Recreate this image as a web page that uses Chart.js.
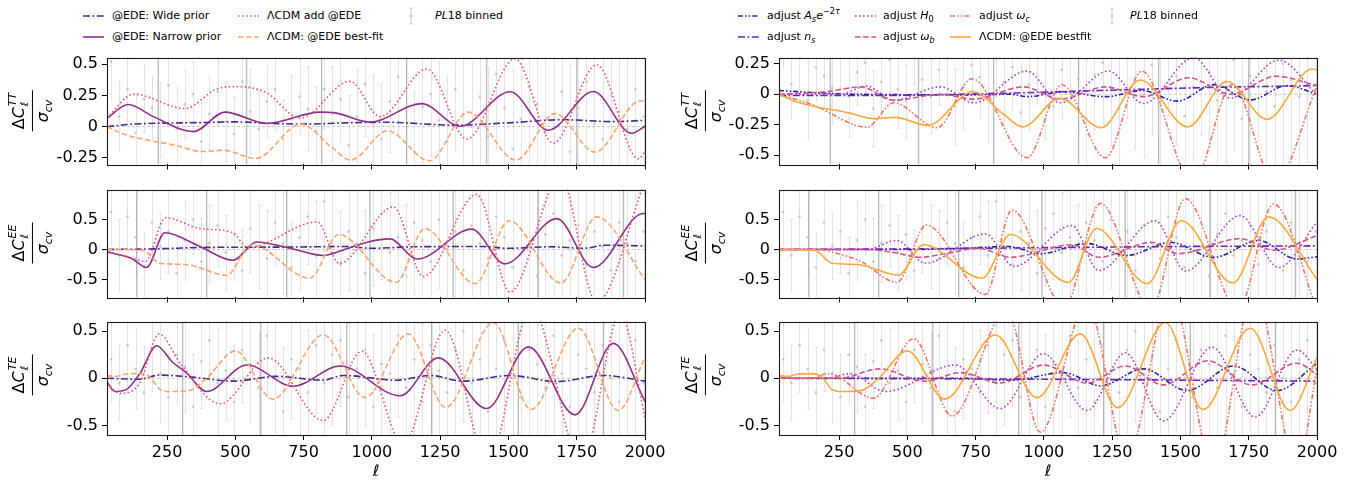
<!DOCTYPE html>
<html><head><meta charset="utf-8">
<script src="https://cdn.jsdelivr.net/npm/chart.js@4.4.0/dist/chart.umd.min.js"></script>
<style>
body{margin:0;width:1352px;height:480px;background:#fff;position:relative;overflow:hidden;font-family:"DejaVu Sans",sans-serif;color:#000}
canvas{position:absolute}
.lt{position:absolute;font-size:11px;line-height:14px;white-space:nowrap}
.lt sub,.lt sup{font-size:75%;line-height:0}
.yl{position:absolute;transform:translate(-50%,-50%) rotate(-90deg);display:flex;flex-direction:column;align-items:center;font-size:16px;line-height:1;white-space:nowrap}
.num{display:inline-flex;align-items:center;padding:0 2px 2px}
.st{display:inline-flex;flex-direction:column;font-size:11px;line-height:1.05;margin-left:1px}
.den{border-top:1.6px solid #000;padding-top:2px;width:100%;text-align:center}
.den sub{font-size:11px;line-height:0}
.xl{position:absolute;font-size:16px;font-style:italic;transform:translate(-50%,-50%)}
</style></head><body>
<script>
// ---------- axes ----------
const X_MIN = 30, X_MAX = 2000;
const xTicks = [250,500,750,1000,1250,1500,1750,2000];
const yTicksTTL = [-0.25,0,0.25,0.5], yLabTTL = ['-0.25','0','0.25','0.5'];
const yTicksTTR = [-0.5,-0.25,0,0.25], yLabTTR = ['-0.5','-0.25','0','0.25'];
const yTicksPol = [-0.5,0,0.5], yLabPol = ['-0.5','0','0.5'];

// ---------- PL18 binned residuals ----------
const binL = [45,75,105,135,165,195,225,255,285,315,345,375,405,435,465,495,525,555,585,615,645,675,705,735,765,795,825,855,885,915,945,975,1005,1035,1065,1095,1125,1155,1185,1215,1245,1275,1305,1335,1365,1395,1425,1455,1485,1515,1545,1575,1605,1635,1665,1695,1725,1755,1785,1815,1845,1875,1905,1935,1965,1995];
const TT_v = [0.52,0.08,0.30,-0.05,0.22,0.15,0.05,0.33,-0.02,0.18,0.26,-0.12,0.10,0.28,0.04,-0.06,0.36,0.12,-0.02,0.20,0.30,-0.10,0.06,0.24,0.14,-0.04,0.30,0.10,0.22,-0.15,0.08,0.34,0.02,-0.10,0.20,0.40,0.12,-0.20,0.16,0.26,0.05,-0.12,0.30,0.10,0.00,0.24,-0.08,0.42,0.15,-0.18,0.06,0.32,0.18,-0.05,0.10,0.28,-0.20,0.15,0.36,0.02,-0.10,0.25,0.12,-0.02,0.30,0.08];
const TT_e = [0.30,0.28,0.26,0.32,0.27,0.25,0.30,0.28,0.33,0.27,0.26,0.31,0.29,0.27,0.32,0.30,0.28,0.34,0.30,0.29,0.33,0.31,0.35,0.30,0.34,0.36,0.32,0.38,0.35,0.40,0.37,0.42,0.39,0.44,0.41,0.46,0.43,0.48,0.45,0.50,0.47,0.52,0.50,0.55,0.52,0.58,0.55,0.60,0.57,0.63,0.60,0.66,0.62,0.70,0.66,0.74,0.70,0.78,0.74,0.82,0.78,0.86,0.82,0.90,0.86,0.95];
const EE_v = [0.62,-0.10,0.55,0.20,-0.30,0.45,0.05,0.30,-0.40,0.15,0.50,-0.20,0.10,0.40,-0.05,0.25,-0.35,0.35,0.05,-0.15,0.45,0.10,-0.30,0.20,0.55,-0.10,0.80,0.05,-0.25,0.30,0.10,-0.40,0.35,0.60,-0.05,0.20,-0.30,0.45,0.15,-0.20,0.50,0.00,0.30,-0.35,0.40,0.10,-0.15,0.55,0.20,-0.30,0.35,0.05,-0.45,0.25,0.60,-0.10,0.15,0.40,-0.25,0.30,0.05,-0.35,0.45,0.10,-0.20,0.30];
const EE_e = [0.55,0.60,0.50,0.65,0.58,0.62,0.55,0.70,0.60,0.66,0.58,0.72,0.64,0.70,0.62,0.76,0.68,0.74,0.70,0.80,0.72,0.84,0.76,0.88,0.80,0.92,0.84,0.96,0.88,1.00,0.92,1.05,0.96,1.10,1.00,1.15,1.05,1.20,1.10,1.25,1.15,1.30,1.20,1.35,1.25,1.40,1.30,1.45,1.35,1.50,1.40,1.55,1.45,1.60,1.50,1.65,1.55,1.70,1.60,1.75,1.65,1.80,1.70,1.85,1.75,1.90];
const TE_v = [0.20,-0.05,0.35,0.10,-0.15,0.30,0.05,-0.20,0.25,0.12,-0.30,0.18,0.40,-0.05,0.08,-0.25,0.30,0.15,-0.10,0.45,0.02,-0.35,0.20,0.10,-0.15,0.35,-0.05,0.25,0.40,-0.20,0.10,0.30,-0.30,0.15,0.05,0.45,-0.10,0.20,-0.25,0.35,0.08,-0.15,0.30,0.50,-0.05,0.20,-0.35,0.10,0.40,0.00,-0.20,0.30,0.15,-0.10,0.45,0.05,-0.30,0.25,0.10,-0.15,0.35,0.00,-0.25,0.20,0.40,-0.05];
const TE_e = [0.45,0.40,0.50,0.42,0.48,0.44,0.52,0.46,0.50,0.48,0.55,0.50,0.53,0.58,0.52,0.60,0.56,0.62,0.58,0.65,0.60,0.68,0.63,0.70,0.66,0.72,0.68,0.75,0.70,0.78,0.73,0.80,0.76,0.83,0.78,0.86,0.80,0.88,0.83,0.90,0.86,0.93,0.88,0.96,0.90,0.98,0.93,1.00,0.96,1.03,0.98,1.06,1.00,1.08,1.03,1.10,1.06,1.13,1.08,1.16,1.10,1.18,1.13,1.20,1.16,1.22];
// wide (off-scale) binned bars, drawn darker
const TT_dark = [218,541,816,1127,1420,1750];
const EE_dark = [139,395,688,993,1298,1609,1921];
const TE_dark = [307,593,908,1219,1536,1848];

// ---------- ΛCDM: @EDE best-fit (shared by both columns) ----------
const BF_TT_l = [30,90,160,280,380,455,575,740,850,923,1057,1210,1353,1527,1671,1817,1982,2000];
const BF_TT_v = [0,-0.06,-0.1,-0.15,-0.2,-0.19,-0.255,0.02,-0.16,-0.268,-0.034,-0.274,0.116,-0.268,0.104,-0.205,0.207,0.2];
const BF_EE_l = [30,160,224,317,468,559,773,878,1089,1193,1378,1503,1692,1823,2000];
const BF_EE_v = [0,-0.01,-0.23,-0.25,-0.43,0.08,-0.48,0.25,-0.55,0.35,-0.57,0.48,-0.56,0.545,-0.5];
const BF_TE_l = [30,60,100,150,185,225,260,330,395,500,637,822,975,1133,1270,1445,1582,1756,1902,2000];
const BF_TE_v = [0.03,0.02,0.045,0.05,0.02,-0.12,-0.14,-0.13,0.0,0.29,-0.22,0.46,-0.205,0.47,-0.31,0.59,-0.33,0.53,-0.34,0.22];

// ---------- left column ----------
const W_TT_l = [30,127,371,500,620,760,900,1050,1300,1500,1700,1880,2000];
const W_TT_v = [0,0.02,0.032,0.038,0.027,0.02,0.03,0.035,0.012,0.03,0.055,0.04,0.05];
const N_TT_l = [30,108,200,346,462,615,810,860,993,1182,1323,1506,1646,1811,1951,2000];
const N_TT_v = [0.068,0.177,0.08,-0.04,0.116,0.025,0.116,0.112,0.036,0.184,0.003,0.279,-0.029,0.281,-0.053,0.003];
const A_TT_l = [30,127,316,430,500,560,615,737,920,1030,1201,1348,1524,1664,1823,1976,2000];
const A_TT_v = [0.068,0.26,0.145,0.30,0.32,0.31,0.27,0.068,0.363,0.08,0.462,-0.1,0.544,-0.133,0.496,-0.258,-0.2];

const W_EE_l = [30,200,400,700,900,1000,1150,1400,1500,1650,1780,1850,2000];
const W_EE_v = [0,0.01,0.035,0.04,0.05,0.02,0.045,0.05,0.02,0.045,0.02,0.07,0.06];
const N_EE_l = [30,120,175,242,370,492,578,700,822,900,990,1066,1166,1365,1487,1677,1811,1994,2000];
const N_EE_v = [-0.04,-0.15,-0.30,0.28,0.05,-0.18,0.126,0.02,-0.1,0.0,0.13,0.177,-0.16,0.34,-0.24,0.515,-0.30,0.6,0.6];
const A_EE_l = [30,120,170,245,371,492,545,800,880,1079,1188,1384,1506,1690,1823,2000];
const A_EE_v = [-0.04,-0.14,-0.2,0.53,0.35,0.28,0.03,0.46,-0.23,0.71,-0.45,0.92,-0.71,1.2,-0.88,1.15];

const W_TE_l = [30,150,221,350,492,650,822,895,1091,1213,1335,1506,1677,1847,2000];
const W_TE_v = [0,-0.01,0.034,0.01,-0.03,0.02,-0.02,0.03,-0.02,0.03,-0.03,0.03,-0.035,0.03,-0.03];
const N_TE_l = [30,59,100,150,212,270,320,395,542,712,883,1103,1243,1420,1573,1744,1884,2000];
const N_TE_v = [-0.04,-0.14,-0.12,0.05,0.344,0.17,0.06,-0.14,0.14,-0.084,0.13,-0.185,0.216,-0.32,0.333,-0.387,0.37,-0.245];
const A_TE_l = [30,79,150,221,300,444,620,822,963,1115,1268,1425,1583,1768,1910,2000];
const A_TE_v = [-0.06,-0.16,-0.05,0.47,0.15,-0.27,0.216,-0.447,0.286,-0.7,0.51,-0.9,0.75,-0.88,0.68,-0.41];

// ---------- right column ----------
const As_TT_l = [30,300,750,877,940,1070,1225,1360,1488,1622,1756,1890,2000];
const As_TT_v = [0.03,0.0,-0.005,0.0,-0.02,0.02,-0.02,0.03,-0.057,0.078,-0.047,0.07,0.0];
const ns_TT_l = [30,400,800,1200,1600,2000];
const ns_TT_v = [-0.01,-0.01,0.005,0.03,0.055,0.07];
const H0_TT_l = [30,250,352,450,621,743,938,1060,1237,1365,1548,1683,1860,2000];
const H0_TT_v = [0,0,0.066,-0.05,0.06,-0.07,0.19,-0.07,0.19,-0.076,0.3,-0.032,0.28,-0.007];
const wb_TT_l = [30,200,330,450,620,740,926,1060,1225,1365,1530,1683,1850,2000];
const wb_TT_v = [0,0.02,0.06,-0.05,0.0,-0.04,0.06,-0.04,0.06,-0.02,0.135,0.0,0.147,0.07];
const wc_TT_l = [30,157,352,450,609,737,938,1066,1225,1359,1546,1690,1845,2000];
const wc_TT_v = [0,-0.09,-0.27,-0.07,-0.275,0.127,-0.52,0.078,-0.52,0.188,-0.72,0.08,-0.72,0.066];

const As_EE_l = [30,500,700,870,987,1158,1304,1463,1622,1786,1927,2000];
const As_EE_v = [0,0,0.02,0.05,-0.07,0.1,-0.1,0.12,-0.13,0.15,-0.16,-0.12];
const ns_EE_l = [30,500,1000,1500,2000];
const ns_EE_v = [0,0.01,0.03,0.05,0.06];
const H0_EE_l = [30,350,462,566,786,890,1103,1200,1408,1518,1719,1860,2000];
const H0_EE_v = [0,0,0.15,-0.23,0.26,-0.28,0.40,-0.35,0.48,-0.36,0.565,-0.30,0.46];
const wb_EE_l = [30,350,450,547,650,760,877,1103,1200,1395,1490,1719,1841,2000];
const wb_EE_v = [0,0,-0.05,-0.13,-0.06,0.02,-0.13,0.08,-0.13,0.12,-0.07,0.18,-0.01,0.23];
const wc_EE_l = [30,180,230,330,462,569,786,883,1075,1207,1392,1518,1711,1841,2000];
const wc_EE_v = [0,0,-0.05,-0.2,-0.55,0.41,-0.75,0.66,-0.95,0.77,-1.0,0.85,-1.0,0.76,-1.0];

const As_TE_l = [30,700,880,1072,1208,1365,1524,1695,1853,2000];
const As_TE_v = [0,0,-0.02,0.06,-0.08,0.1,-0.13,0.13,-0.13,0.16];
const ns_TE_l = [30,1000,2000];
const ns_TE_v = [0,-0.01,-0.03];
const H0_TE_l = [30,200,290,419,676,840,999,1158,1298,1438,1616,1774,1927,2000];
const H0_TE_v = [0,0,0.05,-0.14,0.14,-0.32,0.26,-0.34,0.27,-0.45,0.33,-0.41,0.3,0.09];
const wb_TE_l = [30,250,400,560,694,840,999,1158,1298,1438,1600,1760,1927,2000];
const wb_TE_v = [0,0,0.1,-0.03,0.06,-0.05,0.14,-0.05,0.13,-0.07,0.185,-0.07,0.16,0.04];
const wc_TE_l = [30,150,210,376,523,664,864,987,1158,1304,1463,1622,1770,1927,2000];
const wc_TE_v = [0,0,0.05,-0.21,0.42,-0.4,0.72,-0.57,0.8,-0.85,0.9,-0.95,0.95,-0.95,0.1];

// ---------- styles ----------
const C = {wide:'#47288a', narrow:'#8f2f8c', add:'#e8526c', bf:'#fea36f',
           As:'#23239a', ns:'#6a1fc0', H0:'#b03ac8', wb:'#d4508a', wc:'#f07563', bfR:'#fda83c'};
const D = {dashdot:[7,2.5,1.8,2.5], dotted:[1.6,2.4], dashed:[5.5,2.6], ddd:[5,2,1.6,2,1.6,2], solid:[]};

Chart.defaults.font.family = "'DejaVu Sans', sans-serif";
Chart.defaults.font.size = 16;
Chart.defaults.color = '#000';

function curve(ls, vs, color, dash){
  return {data: ls.map((l,i)=>({x:l, y:vs[i]})), borderColor: color, borderDash: dash, borderWidth: 1.6,
          pointRadius: 0, cubicInterpolationMode: 'monotone', fill: false};
}
function zeroLine(){
  return {data:[{x:X_MIN,y:0},{x:X_MAX,y:0}], borderColor:'rgba(195,195,195,0.9)', borderDash:[3,2], borderWidth:1, pointRadius:0};
}
function points(vals){
  return {data: binL.map((l,i)=>({x:l, y:vals[i]})), showLine:false, pointRadius:1.4, pointBorderWidth:0,
          pointBackgroundColor:'rgba(185,185,185,0.7)', borderColor:'rgba(0,0,0,0)'};
}

const errPlugin = {
  id:'errbars',
  beforeDatasetsDraw(chart, args, o){
    if(!o || !o.vals) return;
    const {ctx, chartArea:a} = chart, xs = chart.scales.x, ys = chart.scales.y;
    ctx.save(); ctx.beginPath(); ctx.rect(a.left, a.top, a.right-a.left, a.bottom-a.top); ctx.clip();
    ctx.strokeStyle = 'rgba(200,200,200,0.5)'; ctx.lineWidth = 1;
    for(let i=0;i<binL.length;i++){
      const px = Math.round(xs.getPixelForValue(binL[i]))+0.5;
      const y1 = ys.getPixelForValue(o.vals[i]-o.errs[i]), y2 = ys.getPixelForValue(o.vals[i]+o.errs[i]);
      ctx.beginPath(); ctx.moveTo(px,y1); ctx.lineTo(px,y2);
      ctx.moveTo(px-1.5,y1); ctx.lineTo(px+1.5,y1); ctx.moveTo(px-1.5,y2); ctx.lineTo(px+1.5,y2);
      ctx.stroke();
    }
    ctx.strokeStyle = 'rgba(160,160,160,0.7)'; ctx.lineWidth = 1.4;
    for(const l of o.dark){
      const px = xs.getPixelForValue(l);
      ctx.beginPath(); ctx.moveTo(px, ys.getPixelForValue(ys.max)); ctx.lineTo(px, ys.getPixelForValue(ys.min)); ctx.stroke();
    }
    ctx.restore();
  },
  afterDraw(chart){
    const {ctx, chartArea:a} = chart;
    ctx.save(); ctx.strokeStyle = '#1a1a1a'; ctx.lineWidth = 1.1;
    ctx.strokeRect(Math.round(a.left)+0.5, Math.round(a.top)+0.5, Math.round(a.right-a.left), Math.round(a.bottom-a.top));
    ctx.restore();
  }
};
Chart.register(errPlugin);

function panel(pos, yMin, yMax, yT, yTL, showX, datasets, bars){
  const YW = 70, PT = 8, PR = 30, XH = showX ? 40 : 8;
  const cv = document.createElement('canvas');
  cv.width = pos.w + YW + PR; cv.height = pos.h + PT + XH;
  cv.style.left = (pos.l - YW) + 'px'; cv.style.top = (pos.t - PT) + 'px';
  document.body.appendChild(cv);
  const grid = {drawOnChartArea:false, drawTicks:true, tickLength:5, color:'#000', lineWidth:1};
  new Chart(cv, {type:'line', data:{datasets}, options:{
    responsive:false, animation:false, devicePixelRatio:1, events:[],
    layout:{padding:{top:PT, right:PR, left:0, bottom:0}},
    plugins:{legend:{display:false}, tooltip:{enabled:false}, errbars:bars},
    scales:{
      x:{type:'linear', min:X_MIN, max:X_MAX, grid, border:{display:false},
         afterBuildTicks:s=>{s.ticks = xTicks.map(v=>({value:v}));}, afterFit:s=>{s.height = XH;},
         ticks:{display:showX, padding:3, maxRotation:0, autoSkip:false, callback:v=>String(v)}},
      y:{type:'linear', min:yMin, max:yMax, grid, border:{display:false},
         afterBuildTicks:s=>{s.ticks = yT.map(v=>({value:v}));}, afterFit:s=>{s.width = YW;},
         ticks:{padding:4, autoSkip:false, callback:(v,i)=>yTL[i]}}
    }
  }});
}

const LX = {l:107, w:538}, RX = {l:779, w:538};
const ROW = {TT:{t:52,h:118}, EE:{t:184,h:119}, TE:{t:316,h:119}};
const P = (c, r) => ({l:c.l, w:c.w, t:r.t, h:r.h});

panel(P(LX,ROW.TT), -0.303, 0.553, yTicksTTL, yLabTTL, false, [
  curve(BF_TT_l,BF_TT_v,C.bf,D.dashed), curve(A_TT_l,A_TT_v,C.add,D.dotted),
  curve(N_TT_l,N_TT_v,C.narrow,D.solid), curve(W_TT_l,W_TT_v,C.wide,D.dashdot), zeroLine(), points(TT_v)],
  {vals:TT_v, errs:TT_e, dark:TT_dark});
panel(P(LX,ROW.EE), -0.8, 1.0, yTicksPol, yLabPol, false, [
  curve(BF_EE_l,BF_EE_v,C.bf,D.dashed), curve(A_EE_l,A_EE_v,C.add,D.dotted),
  curve(N_EE_l,N_EE_v,C.narrow,D.solid), curve(W_EE_l,W_EE_v,C.wide,D.dashdot), zeroLine(), points(EE_v)],
  {vals:EE_v, errs:EE_e, dark:EE_dark});
panel(P(LX,ROW.TE), -0.6, 0.6, yTicksPol, yLabPol, true, [
  curve(BF_TE_l,BF_TE_v,C.bf,D.dashed), curve(A_TE_l,A_TE_v,C.add,D.dotted),
  curve(N_TE_l,N_TE_v,C.narrow,D.solid), curve(W_TE_l,W_TE_v,C.wide,D.dashdot), zeroLine(), points(TE_v)],
  {vals:TE_v, errs:TE_e, dark:TE_dark});

panel(P(RX,ROW.TT), -0.575, 0.3, yTicksTTR, yLabTTR, false, [
  curve(BF_TT_l,BF_TT_v,C.bfR,D.solid), curve(wc_TT_l,wc_TT_v,C.wc,D.ddd), curve(wb_TT_l,wb_TT_v,C.wb,D.dashed),
  curve(H0_TT_l,H0_TT_v,C.H0,D.dotted), curve(ns_TT_l,ns_TT_v,C.ns,D.dashdot), curve(As_TT_l,As_TT_v,C.As,D.ddd),
  zeroLine(), points(TT_v)], {vals:TT_v, errs:TT_e, dark:TT_dark});
panel(P(RX,ROW.EE), -0.8, 1.0, yTicksPol, yLabPol, false, [
  curve(BF_EE_l,BF_EE_v,C.bfR,D.solid), curve(wc_EE_l,wc_EE_v,C.wc,D.ddd), curve(wb_EE_l,wb_EE_v,C.wb,D.dashed),
  curve(H0_EE_l,H0_EE_v,C.H0,D.dotted), curve(ns_EE_l,ns_EE_v,C.ns,D.dashdot), curve(As_EE_l,As_EE_v,C.As,D.ddd),
  zeroLine(), points(EE_v)], {vals:EE_v, errs:EE_e, dark:EE_dark});
panel(P(RX,ROW.TE), -0.6, 0.6, yTicksPol, yLabPol, true, [
  curve(BF_TE_l,BF_TE_v,C.bfR,D.solid), curve(wc_TE_l,wc_TE_v,C.wc,D.ddd), curve(wb_TE_l,wb_TE_v,C.wb,D.dashed),
  curve(H0_TE_l,H0_TE_v,C.H0,D.dotted), curve(ns_TE_l,ns_TE_v,C.ns,D.dashdot), curve(As_TE_l,As_TE_v,C.As,D.ddd),
  zeroLine(), points(TE_v)], {vals:TE_v, errs:TE_e, dark:TE_dark});

// ---------- legends (HTML) ----------
function legLine(x, y, len, color, dash, w){
  const s = document.createElementNS('http://www.w3.org/2000/svg','svg');
  s.setAttribute('width', len); s.setAttribute('height', 6);
  s.style.cssText = `position:absolute;left:${x}px;top:${y-3}px`;
  s.innerHTML = `<line x1="0" y1="3" x2="${len}" y2="3" stroke="${color}" stroke-width="${w||1.6}" stroke-dasharray="${dash.join(' ')}"/>`;
  document.body.appendChild(s);
}
function legErr(x, y){
  const s = document.createElementNS('http://www.w3.org/2000/svg','svg');
  s.setAttribute('width', 6); s.setAttribute('height', 18);
  s.style.cssText = `position:absolute;left:${x-3}px;top:${y-9}px`;
  s.innerHTML = `<path d="M3 1V17M1.5 1H4.5M1.5 17H4.5" stroke="rgba(190,190,190,0.8)" stroke-width="1" fill="none"/><circle cx="3" cy="9" r="1.3" fill="rgba(185,185,185,0.8)"/>`;
  document.body.appendChild(s);
}
function legText(x, y, html){
  const d = document.createElement('div'); d.className = 'lt';
  d.style.left = x + 'px'; d.style.top = (y - 7) + 'px'; d.innerHTML = html;
  document.body.appendChild(d);
}
const R1 = 16, R2 = 37;
legLine(83,R1,21,C.wide,D.dashdot); legText(112,R1,'@EDE: Wide prior');
legLine(83,R2,21,C.narrow,D.solid); legText(112,R2,'@EDE: Narrow prior');
legLine(238,R1,21,C.add,D.dotted); legText(267,R1,'ΛCDM add @EDE');
legLine(238,R2,21,C.bf,D.dashed); legText(267,R2,'ΛCDM: @EDE best-fit');
legErr(411,R1); legText(435,R1,'<i>PL</i>18 binned');

legLine(738,R1,21,C.As,D.ddd); legText(767,R1,'adjust <i>A<sub>s</sub>e</i><sup>−2<i>τ</i></sup>');
legLine(738,R2,21,C.ns,D.dashdot); legText(767,R2,'adjust <i>n<sub>s</sub></i>');
legLine(855,R1,21,C.H0,D.dotted); legText(883,R1,'adjust <i>H</i><sub>0</sub>');
legLine(855,R2,21,C.wb,D.dashed); legText(883,R2,'adjust <i>ω<sub>b</sub></i>');
legLine(950,R1,21,C.wc,D.ddd); legText(979,R1,'adjust <i>ω<sub>c</sub></i>');
legLine(950,R2,21,C.bfR,D.solid); legText(979,R2,'ΛCDM: @EDE bestfit');
legErr(1112,R1); legText(1130,R1,'<i>PL</i>18 binned');

// ---------- y labels & x labels ----------
function yLabel(cx, cy, sup){
  const d = document.createElement('div'); d.className = 'yl';
  d.style.left = cx + 'px'; d.style.top = cy + 'px';
  d.innerHTML = `<span class="num">Δ<i>C</i><span class="st"><i>${sup}</i><i>ℓ</i></span></span><span class="den"><i>σ</i><sub><i>cv</i></sub></span>`;
  document.body.appendChild(d);
}
yLabel(29,111,'TT'); yLabel(29,243,'EE'); yLabel(29,375,'TE');
yLabel(702,111,'TT'); yLabel(702,243,'EE'); yLabel(702,375,'TE');
function xLabel(cx, cy){
  const d = document.createElement('div'); d.className = 'xl';
  d.style.left = cx + 'px'; d.style.top = cy + 'px'; d.textContent = 'ℓ';
  document.body.appendChild(d);
}
xLabel(376,470); xLabel(1048,470);
</script>
</body></html>
